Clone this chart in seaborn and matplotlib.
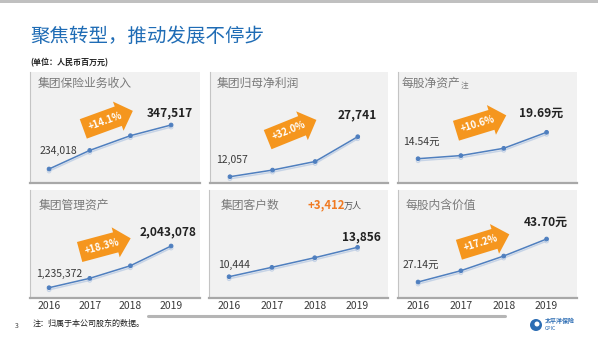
import matplotlib
matplotlib.use("Agg")
import matplotlib.pyplot as plt
import matplotlib.patheffects as pe
from matplotlib.patches import Ellipse, Rectangle
from matplotlib.lines import Line2D
import seaborn as sns
import pandas as pd

sns.set_theme(style="white")
plt.rcParams['font.family'] = ['Noto Sans CJK SC', 'DejaVu Sans']

# ---------------- data ----------------
years = [2016, 2017, 2018, 2019]
year_labels = ["2016", "2017", "2018", "2019"]

titles = ["集团保险业务收入", "集团归母净利润", "每股净资产", "集团管理资产", "集团客户数", "每股内含价值"]
premium = [234018, 282000, 320000, 347517]
net_profit = [12057, 14662, 18019, 27741]
bvps = [14.54, 15.15, 16.57, 19.69]
aum = [1235372, 1417000, 1661000, 2043078]
customers = [10444, 11535, 12648, 13856]
evps = [27.14, 31.49, 37.15, 43.70]
start_labels = ["234,018", "12,057", "14.54元", "1,235,372", "10,444", "27.14元"]
end_labels = ["347,517", "27,741", "19.69元", "2,043,078", "13,856", "43.70元"]
growth_labels = ["+14.1%", "+32.0%", "+10.6%", "+18.3%", None, "+17.2%"]
customer_growth = "+3,412"
series = [premium, net_profit, bvps, aum, customers, evps]

# ---------------- layout ----------------
W, H = 598, 338
fig = plt.figure(figsize=(W / 100, H / 100), dpi=100)
fig.patch.set_facecolor("white")

def fx(x):
    return x / W

def fy(y):
    return 1 - y / H

# panel boxes (left, top, right, bottom) in pixels
boxes = [(30, 72, 200, 183), (210, 72, 388, 183), (398, 72, 577, 183),
         (30, 190, 200, 298), (209, 190, 388, 298), (398, 190, 577, 298)]
ylims = [(197900, 484200), (9590, 53100), (9.80, 31.45),
         (1035900, 3127800), (7973, 20503), (20.98, 62.57)]
# label offsets (pixels) relative to first / last point
start_off = [(9, 18), (2, 17), (3, 17), (10, 14), (5, 12), (3, 17)]
end_off = [(-1, 12), (-1, 22), (-6, 19), (-3, 14), (4, 10), (-1, 17)]
# arrows: centre (px), rotation
arrows = [((105, 121), 20), ((289, 131), 22), ((478, 124), 17),
          ((102, 246), 15), None, ((481, 243), 17)]
title_pos = [(38, 83), (217, 83), (402, 83), (39, 205), (221, 205), (406, 205)]

line_color = "#4f7fbf"
orange = "#f5961e"
dark = "#3a3a3a"
grey_title = "#7a7a7a"

# top bar
fig.add_artist(Rectangle((0, fy(3)), 1, 3 / H, transform=fig.transFigure,
                         facecolor="#c0c0c0", edgecolor="none"))

# title
fig.text(fx(30), fy(36), "聚焦转型，推动发展不停步", fontsize=14, color="#1f6cb5",
         ha="left", va="center")
fig.text(fx(30), fy(63), "(单位：人民币百万元)", fontsize=5.8, color="#222222",
         fontweight="bold", ha="left", va="center")

for i, (box, vals) in enumerate(zip(boxes, series)):
    l, t, r, b = box
    ax = fig.add_axes([fx(l), fy(b), (r - l) / W, (b - t) / H])
    ax.set_facecolor("#f1f1f1")
    df = pd.DataFrame({"year": years, "value": vals})
    sns.lineplot(data=df, x="year", y="value", ax=ax, color=line_color,
                 linewidth=1.1, marker="o", markersize=2.6,
                 markeredgecolor=line_color,
                 path_effects=[pe.SimpleLineShadow(offset=(0, -1.5), shadow_color="#9db7dc", alpha=0.5),
                               pe.Normal()])
    ax.set_xlim(2016 - 0.468, 2019 + 0.71)
    ax.set_ylim(*ylims[i])
    ax.set_xlabel("")
    ax.set_ylabel("")
    ax.set_yticks([])
    ax.set_xticks(years)
    if i >= 3:
        ax.set_xticklabels(year_labels, fontsize=7.5, color=dark)
        ax.tick_params(axis="x", length=0, pad=2.5)
    else:
        ax.set_xticklabels([])
        ax.tick_params(axis="x", length=0)
    for s in ["top", "right"]:
        ax.spines[s].set_visible(False)
    ax.spines["left"].set_color("#c4c4c4")
    ax.spines["left"].set_linewidth(0.8)
    ax.spines["bottom"].set_color("#a8a8a8")
    ax.spines["bottom"].set_linewidth(1.6)

    # start / end labels
    ax.annotate(start_labels[i], (years[0], vals[0]), xytext=start_off[i],
                textcoords="offset pixels", ha="center", va="center",
                fontsize=7.5, color=dark)
    ax.annotate(end_labels[i], (years[-1], vals[-1]), xytext=end_off[i],
                textcoords="offset pixels", ha="center", va="center",
                fontsize=8.6, color="#222222", fontweight="bold")

    # panel title
    tx, ty = title_pos[i]
    fig.text(fx(tx), fy(ty), titles[i], fontsize=8.5, color=grey_title,
             ha="left", va="center")

    # growth arrows
    if arrows[i] is not None:
        (cx, cy), rot = arrows[i]
        fig.text(fx(cx), fy(cy), growth_labels[i], fontsize=7, color="white",
                 fontweight="bold", ha="center", va="center", rotation=rot,
                 rotation_mode="anchor",
                 bbox=dict(boxstyle="rarrow,pad=0.55", facecolor=orange,
                           edgecolor="none"))

# superscript-ish note on panel 3 title
fig.text(fx(461), fy(86), "注", fontsize=5.5, color=grey_title, ha="left", va="center")

# customer growth text
fig.text(fx(308), fy(205), customer_growth, fontsize=8.2, color="#f07a22",
         fontweight="bold", ha="left", va="center")
fig.text(fx(344), fy(206), "万人", fontsize=6.5, color="#555555", ha="left", va="center")

# footer separator
fig.add_artist(Line2D([fx(148), fx(505)], [fy(316), fy(316)], transform=fig.transFigure,
                      color="#b5b5b5", linewidth=2.2))

# footnote and page number
fig.text(fx(33), fy(323), "注：归属于本公司股东的数据。", fontsize=5.8, color="#222222",
         ha="left", va="center")
fig.text(fx(17), fy(326), "3", fontsize=5, color="#444444", ha="center", va="center")

# logo
fig.add_artist(Ellipse((fx(536), fy(325)), 12 / W, 12 / H, transform=fig.transFigure,
                       facecolor="#2b6cb3", edgecolor="none"))
fig.add_artist(Ellipse((fx(537), fy(324)), 5 / W, 5 / H, transform=fig.transFigure,
                       facecolor="white", edgecolor="none"))
fig.text(fx(545), fy(321), "太平洋保险", fontsize=4.3, color="#2b6cb3", fontweight="bold",
         ha="left", va="center")
fig.text(fx(545), fy(329), "CPIC", fontsize=3.8, color="#2b6cb3", ha="left", va="center")

fig.savefig("out.png", dpi=100, facecolor="white")
